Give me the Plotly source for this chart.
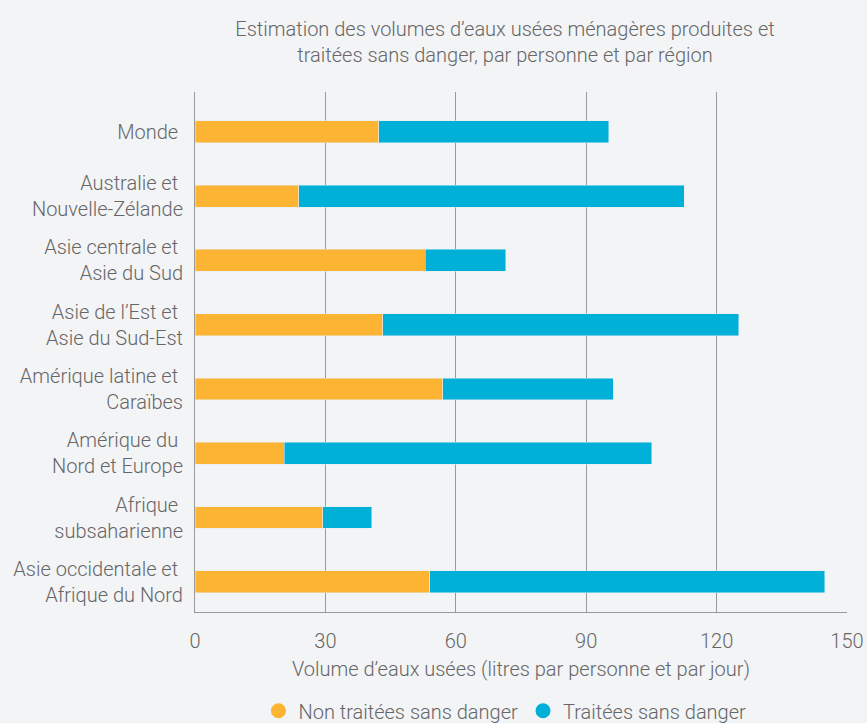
import plotly.graph_objects as go

NBSP = "\u00a0"
REGIONS = [
    "Monde" + NBSP,
    "Australie et" + NBSP + "<br>Nouvelle-Zélande",
    "Asie centrale et" + NBSP + "<br>Asie du Sud",
    "Asie de l’Est et" + NBSP + "<br>Asie du Sud-Est",
    "Amérique latine et" + NBSP + "<br>Caraïbes",
    "Amérique du" + NBSP + "<br>Nord et Europe",
    "Afrique" + NBSP + "<br>subsaharienne",
    "Asie occidentale et" + NBSP + "<br>Afrique du Nord",
]
NON_TRAITEES = [42.3, 23.9, 53.0, 43.2, 57.0, 20.5, 29.4, 54.0]
TOTAL = [95.2, 112.6, 71.5, 125.1, 96.2, 105.1, 40.7, 144.9]
TRAITEES = [round(t - n, 1) for t, n in zip(TOTAL, NON_TRAITEES)]
LEGEND_NAMES = ["Non traitées sans danger", "Traitées sans danger"]

ORANGE = "#FDB432"
BLUE = "#00B0D8"
TEXT = "#666666"
GRID = "#999999"
BG = "#F3F4F6"

fig = go.Figure()
fig.add_trace(go.Bar(y=REGIONS, x=NON_TRAITEES, orientation="h", marker_color=ORANGE,
                     name=LEGEND_NAMES[0], showlegend=False))
fig.add_trace(go.Bar(y=REGIONS, x=TRAITEES, orientation="h", marker_color=BLUE,
                     name=LEGEND_NAMES[1], showlegend=False))
# legend entries drawn as circles
for name, color in zip(LEGEND_NAMES, [ORANGE, BLUE]):
    fig.add_trace(go.Scatter(x=[None], y=[None], mode="markers", name=name,
                             marker={"color": color, "size": 15, "symbol": "circle"}))

fig.update_layout(
    width=867,
    height=723,
    barmode="stack",
    bargap=0.66,
    paper_bgcolor=BG,
    plot_bgcolor=BG,
    font={"family": "Roboto", "weight": 300, "size": 20, "color": TEXT},
    margin={"l": 195, "r": 20, "t": 92, "b": 111, "autoexpand": False},
    title={
        "text": "Estimation des volumes d’eaux usées ménagères produites et<br>traitées sans danger, par personne et par région",
        "x": 505 / 867,
        "xanchor": "center",
        "y": 1 - 36 / 723,
        "yanchor": "middle",
        "font": {"size": 20, "color": TEXT, "family": "Roboto", "weight": 300},
    },
    xaxis={
        "range": [0, 150],
        "tickvals": [0, 30, 60, 90, 120, 150],
        "showgrid": True,
        "gridcolor": GRID,
        "gridwidth": 1,
        "zeroline": False,
        "showline": True,
        "linecolor": GRID,
        "ticks": "",
        "automargin": False,
        "ticklabelstandoff": 11,
        "title": {"text": "Volume d’eaux usées (litres par personne et par jour)", "standoff": 9,
                  "font": {"size": 20}},
        "fixedrange": True,
    },
    yaxis={
        "range": [7.47, -0.62],
        "showgrid": False,
        "showline": True,
        "linecolor": GRID,
        "ticks": "",
        "automargin": False,
        "ticklabelstandoff": 7,
        "fixedrange": True,
    },
    legend={
        "orientation": "h",
        "traceorder": "normal",
        "x": 0.4754,
        "xanchor": "center",
        "y": -0.19,
        "yanchor": "middle",
        "bgcolor": "rgba(0,0,0,0)",
    },
)

# drop the default page margin so the chart fills the window
fig.write_html(
    "out.html",
    config={"displayModeBar": False},
    post_script="document.body.style.margin='0';document.body.style.background='#F3F4F6';"
                "document.body.style.overflow='hidden';",
)
